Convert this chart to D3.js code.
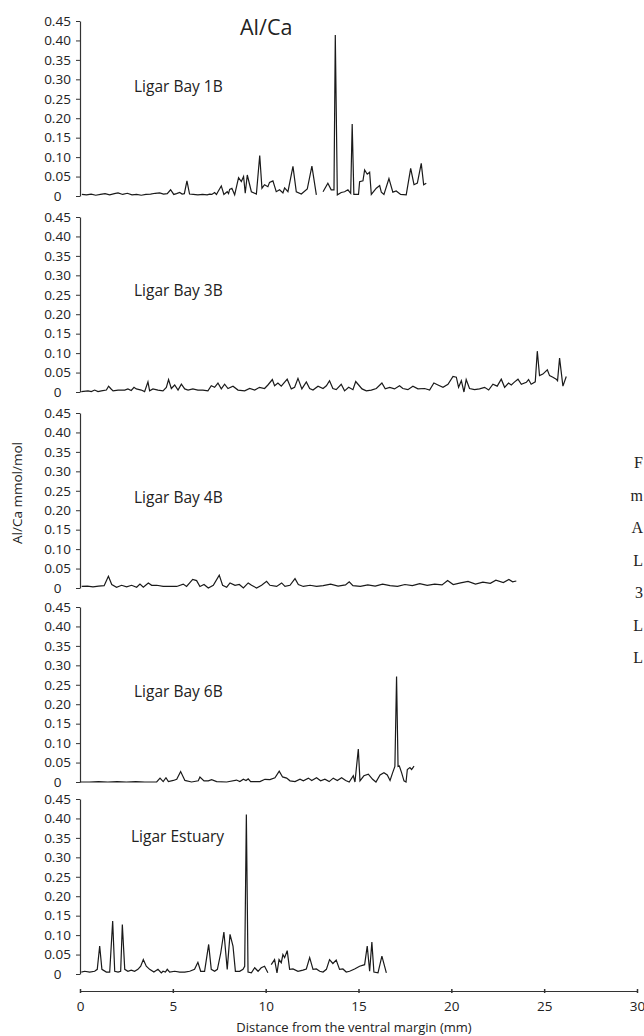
<!DOCTYPE html>
<html>
<head>
<meta charset="utf-8">
<script src="https://cdn.jsdelivr.net/npm/d3@7"></script>
<style>
  html, body { margin: 0; padding: 0; background: #fff; overflow: hidden; }
  svg { display: block; }
  text { font-family: "Open Sans", "Noto Sans", sans-serif; fill: #222; }
</style>
</head>
<body>
<svg id="chart" width="644" height="1036"></svg>
<script>
// ---------- data ----------
const title = "Al/Ca";
const yAxisTitle = "Al/Ca mmol/mol";
const xAxisTitle = "Distance from the ventral margin (mm)";
const panelNames = ["Ligar Bay 1B", "Ligar Bay 3B", "Ligar Bay 4B", "Ligar Bay 6B", "Ligar Estuary"];
const xTicks = [0, 5, 10, 15, 20, 25, 30];
const yTicks = [0, 0.05, 0.10, 0.15, 0.20, 0.25, 0.30, 0.35, 0.40, 0.45];
const yTickLabels = ["0", "0.05", "0.10", "0.15", "0.20", "0.25", "0.30", "0.35", "0.40", "0.45"];
// first letters of the neighbouring page column at the right edge
const sideText = ["F", "m", "A", "L", "3", "L", "L"];

// [distance mm, Al/Ca]; null = missing sample (gap)
const bay1B = [[0.1,0.004],[0.35,0.003],[0.6,0.005],[0.85,0.002],[1.1,0.004],[1.35,0.006],[1.6,0.003],[1.85,0.006],[2.05,0.008],[2.3,0.004],[2.55,0.007],[2.8,0.003],[3.05,0.004],[3.3,0.002],[3.55,0.004],[3.8,0.005],[4.05,0.007],[4.29,0.008],[4.5,0.005],[4.7,0.006],[4.88,0.016],[5.05,0.004],[5.2,0.006],[5.37,0.009],[5.5,0.005],[5.62,0.006],[5.76,0.039],[5.9,0.005],[6.1,0.004],[6.35,0.003],[6.6,0.004],[6.85,0.003],[6.98,0.005],[7.1,0.004],[7.25,0.009],[7.35,0.004],[7.43,0.011],[7.61,0.026],[7.75,0.004],[7.93,0.011],[8.0,0.006],[8.06,0.017],[8.18,0.020],[8.33,0.003],[8.54,0.047],[8.69,0.037],[8.81,0.050],[8.9,0.007],[9.01,0.054],[9.23,0.011],[9.5,0.005],[9.68,0.104],[9.8,0.020],[9.94,0.029],[10.12,0.024],[10.21,0.035],[10.39,0.039],[10.57,0.011],[10.75,0.016],[10.93,0.008],[11.02,0.021],[11.2,0.011],[11.47,0.076],[11.65,0.011],[11.92,0.005],[12.24,0.018],[12.49,0.077],[12.73,0.003],[12.9,null],[13.09,0.011],[13.35,0.033],[13.53,0.016],[13.68,0.016],[13.75,0.414],[13.86,0.003],[14.07,0.009],[14.25,0.011],[14.43,0.016],[14.58,0.007],[14.66,0.185],[14.75,0.004],[15.0,0.004],[15.06,0.037],[15.24,0.039],[15.33,0.067],[15.47,0.056],[15.6,0.061],[15.69,0.004],[15.96,0.020],[16.14,0.027],[16.23,0.010],[16.37,0.004],[16.64,0.045],[16.85,0.010],[17.03,0.013],[17.27,0.004],[17.57,0.003],[17.81,0.071],[17.99,0.029],[18.17,0.033],[18.38,0.084],[18.51,0.029],[18.65,0.033]];

const bay3B = [[0.07,0.001],[0.43,0.003],[0.61,0.001],[0.79,0.005],[0.97,0.001],[1.15,0.003],[1.42,0.005],[1.54,0.015],[1.65,0.009],[1.78,0.003],[2.05,0.005],[2.41,0.005],[2.58,0.008],[2.76,0.004],[2.91,0.012],[3.03,0.008],[3.3,0.005],[3.48,0.001],[3.66,0.026],[3.75,0.003],[3.93,0.008],[4.2,0.005],[4.47,0.003],[4.65,0.012],[4.77,0.032],[4.92,0.009],[5.1,0.018],[5.28,0.005],[5.46,0.020],[5.64,0.008],[5.82,0.005],[6.08,0.008],[6.35,0.005],[6.62,0.005],[6.89,0.003],[7.07,0.016],[7.25,0.012],[7.43,0.023],[7.61,0.008],[7.79,0.020],[7.97,0.009],[8.24,0.015],[8.51,0.005],[8.87,0.003],[9.14,0.009],[9.41,0.005],[9.67,0.012],[9.94,0.009],[10.12,0.018],[10.36,0.032],[10.48,0.016],[10.66,0.023],[10.84,0.015],[11.16,0.033],[11.38,0.008],[11.56,0.012],[11.74,0.035],[11.95,0.008],[12.19,0.026],[12.37,0.009],[12.55,0.005],[12.82,0.015],[13.09,0.009],[13.27,0.016],[13.44,0.029],[13.62,0.009],[13.8,0.006],[14.07,0.020],[14.25,0.003],[14.47,0.012],[14.7,0.006],[14.85,0.027],[15.01,0.018],[15.19,0.008],[15.42,0.003],[15.69,0.005],[15.96,0.009],[16.26,0.023],[16.44,0.008],[16.68,0.012],[16.94,0.008],[17.21,0.016],[17.39,0.009],[17.66,0.006],[17.93,0.015],[18.2,0.008],[18.56,0.009],[18.83,0.005],[19.06,0.023],[19.28,0.018],[19.55,0.012],[19.82,0.020],[20.09,0.040],[20.27,0.038],[20.39,0.012],[20.54,0.029],[20.68,0.000],[20.8,0.032],[20.98,0.009],[21.25,0.006],[21.52,0.008],[21.79,0.012],[22.01,0.005],[22.24,0.020],[22.47,0.015],[22.69,0.033],[22.87,0.012],[23.08,0.023],[23.23,0.018],[23.41,0.026],[23.59,0.033],[23.77,0.020],[24.04,0.025],[24.16,0.032],[24.3,0.020],[24.52,0.026],[24.63,0.105],[24.75,0.042],[24.93,0.046],[25.17,0.057],[25.29,0.042],[25.47,0.038],[25.65,0.033],[25.72,0.029],[25.83,0.087],[26.01,0.015],[26.19,0.040]];

const bay4B = [[0.09,0.004],[0.4,0.005],[0.7,0.003],[1.0,0.005],[1.3,0.006],[1.53,0.030],[1.71,0.009],[1.97,0.002],[2.24,0.007],[2.51,0.003],[2.78,0.007],[3.05,0.002],[3.23,0.010],[3.41,0.002],[3.68,0.013],[3.86,0.007],[4.13,0.007],[4.48,0.004],[4.85,0.004],[5.21,0.004],[5.56,0.010],[5.74,0.004],[6.07,0.022],[6.28,0.019],[6.46,0.004],[6.68,0.009],[6.91,0.000],[7.18,0.007],[7.5,0.033],[7.68,0.007],[7.9,0.002],[8.08,0.013],[8.35,0.007],[8.58,0.009],[8.8,0.000],[9.06,0.013],[9.24,0.007],[9.51,0.000],[9.78,0.007],[10.05,0.017],[10.23,0.007],[10.59,0.004],[10.86,0.013],[11.04,0.004],[11.31,0.007],[11.58,0.024],[11.76,0.009],[12.03,0.004],[12.39,0.007],[12.74,0.004],[13.1,0.006],[13.5,0.010],[13.9,0.005],[14.3,0.008],[14.5,0.016],[14.7,0.006],[15.1,0.004],[15.5,0.008],[15.9,0.005],[16.3,0.010],[16.7,0.006],[17.1,0.004],[17.5,0.009],[17.9,0.006],[18.3,0.011],[18.7,0.007],[19.1,0.010],[19.5,0.008],[19.8,0.019],[20.1,0.009],[20.5,0.013],[20.9,0.017],[21.3,0.010],[21.7,0.015],[22.1,0.012],[22.4,0.020],[22.8,0.014],[23.1,0.022],[23.3,0.016],[23.5,0.018]];

const bay6B = [[0.0,0.000],[0.5,0.000],[1.0,0.001],[1.5,0.000],[2.0,0.001],[2.5,0.000],[3.0,0.001],[3.5,0.000],[4.13,0.000],[4.31,0.010],[4.48,0.001],[4.63,0.011],[4.76,0.001],[5.03,0.004],[5.21,0.007],[5.42,0.027],[5.65,0.004],[6.01,0.000],[6.37,0.003],[6.46,0.013],[6.68,0.003],[6.91,0.003],[7.09,0.006],[7.36,0.001],[7.9,0.000],[8.43,0.005],[8.61,0.001],[8.8,0.007],[8.94,0.004],[9.06,0.008],[9.19,0.001],[9.69,0.001],[9.96,0.007],[10.23,0.006],[10.5,0.011],[10.73,0.028],[10.91,0.013],[11.13,0.010],[11.31,0.003],[11.58,0.001],[11.85,0.007],[12.03,0.003],[12.3,0.010],[12.48,0.004],[12.74,0.011],[12.96,0.003],[13.19,0.007],[13.42,0.001],[13.64,0.010],[13.86,0.004],[14.09,0.011],[14.31,0.004],[14.5,0.000],[14.72,0.016],[14.81,0.000],[14.99,0.085],[15.08,0.003],[15.29,0.016],[15.53,0.020],[15.76,0.007],[15.94,0.000],[16.16,0.018],[16.37,0.024],[16.55,0.018],[16.7,0.004],[16.84,0.024],[16.96,0.040],[17.05,0.271],[17.13,0.040],[17.2,0.041],[17.32,0.024],[17.45,0.003],[17.56,0.000],[17.63,0.032],[17.77,0.037],[17.86,0.032],[17.99,0.041]];

const estuary = [[0.07,0.005],[0.25,0.007],[0.52,0.005],[0.79,0.007],[0.93,0.012],[1.06,0.072],[1.18,0.012],[1.42,0.005],[1.6,0.005],[1.76,0.136],[1.87,0.007],[2.05,0.005],[2.19,0.007],[2.28,0.127],[2.41,0.012],[2.58,0.007],[2.76,0.010],[2.94,0.007],[3.12,0.012],[3.27,0.020],[3.41,0.037],[3.57,0.020],[3.75,0.012],[3.98,0.005],[4.2,0.012],[4.38,0.003],[4.47,0.007],[4.6,0.005],[4.7,0.012],[4.83,0.005],[5.1,0.007],[5.37,0.005],[5.64,0.005],[5.91,0.007],[6.17,0.012],[6.35,0.030],[6.5,0.007],[6.71,0.007],[6.93,0.076],[7.07,0.012],[7.25,0.007],[7.4,0.012],[7.58,0.054],[7.75,0.108],[7.93,0.012],[8.08,0.102],[8.24,0.072],[8.37,0.007],[8.6,0.007],[8.78,0.012],[8.87,0.020],[8.96,0.410],[9.05,0.005],[9.23,0.003],[9.41,0.016],[9.59,0.007],[9.76,0.016],[9.94,0.020],[10.12,0.003],[10.2,null],[10.3,0.024],[10.48,0.037],[10.61,0.003],[10.72,0.037],[10.84,0.029],[10.93,0.050],[11.02,0.042],[11.16,0.060],[11.29,0.012],[11.47,0.013],[11.74,0.007],[12.01,0.010],[12.19,0.013],[12.37,0.042],[12.55,0.012],[12.73,0.013],[12.91,0.007],[13.09,0.005],[13.27,0.012],[13.44,0.037],[13.62,0.027],[13.8,0.036],[13.98,0.012],[14.16,0.013],[14.34,0.005],[14.52,0.007],[14.79,0.013],[15.06,0.020],[15.33,0.024],[15.47,0.072],[15.6,0.007],[15.72,0.082],[15.83,0.005],[16.05,0.003],[16.26,0.046],[16.5,0.003]];

const seriesList = [bay1B, bay3B, bay4B, bay6B, estuary];

// ---------- layout ----------
const W = 644, H = 1036;
const axisX = 80, plotRight = 637;
const panelTops = [21, 217, 413, 607, 799];
const panelH = 175;
const labelPos = [[134, 92], [134, 296], [134, 503], [134, 697], [131, 842]];
const xAxisY = 991;

const svg = d3.select("#chart");
svg.append("rect").attr("width", W).attr("height", H).attr("fill", "#fff");

const x = d3.scaleLinear().domain([0, 30]).range([axisX, plotRight]);

const line = d3.line()
  .defined(d => d[1] !== null)
  .x(d => x(d[0]));

panelNames.forEach((name, i) => {
  const top = panelTops[i];
  const y = d3.scaleLinear().domain([0, 0.45]).range([top + panelH, top]);
  const g = svg.append("g").attr("transform", `translate(${axisX},0)`);
  const ax = d3.axisLeft(y)
    .tickValues(yTicks)
    .tickSize(4)
    .tickSizeOuter(0)
    .tickFormat((d, k) => yTickLabels[k]);
  g.call(ax);
  g.select(".domain").attr("stroke", "#333").attr("stroke-width", 1.2);
  g.selectAll(".tick line").attr("stroke", "#333").attr("stroke-width", 1);
  g.selectAll(".tick text")
    .attr("x", -22.5)
    .attr("text-anchor", "middle")
    .attr("font-size", 13.5)
    .attr("font-family", "'Open Sans', sans-serif")
    .attr("fill", "#222");

  line.y(d => y(d[1]));
  svg.append("path")
    .datum(seriesList[i])
    .attr("d", line)
    .attr("fill", "none")
    .attr("stroke", "#1a1a1a")
    .attr("stroke-width", 1.2)
    .attr("stroke-linejoin", "miter");

  svg.append("text")
    .attr("x", labelPos[i][0])
    .attr("y", labelPos[i][1])
    .attr("font-size", 15.5)
    .text(name);
});

// title
svg.append("text").attr("x", 240).attr("y", 35).attr("font-size", 21.5).text(title);

// x axis
const gx = svg.append("g").attr("transform", `translate(0,${xAxisY})`);
gx.call(d3.axisBottom(x).tickValues(xTicks).tickSize(3).tickSizeOuter(0).tickFormat(d3.format("d")));
gx.select(".domain").attr("stroke", "#333").attr("stroke-width", 1.2);
gx.selectAll(".tick line").attr("stroke", "#333").attr("y1", -2).attr("y2", 2).attr("stroke-width", 1.5);
gx.selectAll(".tick text").attr("y", 10).attr("font-size", 13.5).attr("font-family", "'Open Sans', sans-serif").attr("fill", "#222");

svg.append("text")
  .attr("x", 354)
  .attr("y", 1032)
  .attr("text-anchor", "middle")
  .attr("font-size", 13)
  .text(xAxisTitle);

svg.append("text")
  .attr("transform", "translate(22,493) rotate(-90)")
  .attr("text-anchor", "middle")
  .attr("font-size", 13.5)
  .text(yAxisTitle);

// serif letters of the neighbouring column, kept inside the right edge
svg.selectAll("text.side")
  .data(sideText)
  .join("text")
  .attr("class", "side")
  .attr("x", 643)
  .attr("y", (d, k) => 468 + k * 32.5)
  .attr("text-anchor", "end")
  .attr("font-size", 16)
  .attr("fill", "#111")
  .style("font-family", "'Liberation Serif', 'DejaVu Serif', serif")
  .text(d => d);
</script>
</body>
</html>
